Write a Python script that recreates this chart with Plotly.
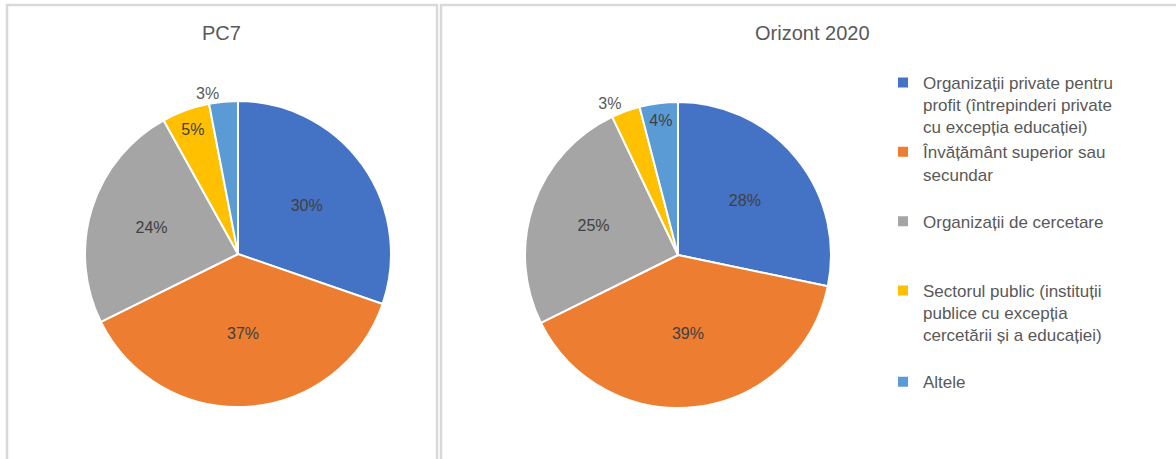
import plotly.graph_objects as go

NB = "\u00a0"
categories = [
    "Organizații private pentru<br>profit (întrepinderi private<br>cu excepția educației)",
    "Învățământ superior sau<br>secundar<br>" + NB,
    "Organizații de cercetare<br>" + NB + "<br>" + NB,
    "Sectorul public (instituții<br>publice cu excepția<br>cercetării și a educației)<br>" + NB,
    "Altele",
]
colors = ["#4472C4", "#ED7D31", "#A5A5A5", "#FFC000", "#5B9BD5"]
titles = ["PC7", "Orizont 2020"]
pc7_values = [30, 37, 24, 5, 3]
h2020_values = [28, 39, 25, 3, 4]
pc7_textpos = ["inside", "inside", "inside", "inside", "outside"]
h2020_textpos = ["inside", "inside", "inside", "outside", "inside"]

W, H = 1176, 459
FONT = "Liberation Sans, Arial, sans-serif"


def px(x):
    return x / W


def py(y):
    return 1 - y / H


R = 153
centers = [(238, 254), (678, 255)]


def dom(c):
    cx, cy = c
    return dict(x=[px(cx - R), px(cx + R)], y=[py(cy + R), py(cy - R)])


fig = go.Figure()
for i, (vals, tp) in enumerate([(pc7_values, pc7_textpos), (h2020_values, h2020_textpos)]):
    fig.add_trace(go.Pie(
        labels=categories,
        values=vals,
        sort=False,
        direction="clockwise",
        rotation=0,
        domain=dom(centers[i]),
        marker=dict(colors=colors, line=dict(color="white", width=2)),
        texttemplate="%{value}%",
        textposition=tp,
        insidetextorientation="horizontal",
        insidetextfont=dict(color="#404040", size=16, family=FONT),
        outsidetextfont=dict(color="#595959", size=16, family=FONT),
        showlegend=(i == 1),
        hoverinfo="label+value",
    ))

shapes = [
    dict(type="rect", xref="paper", yref="paper", x0=px(7), x1=px(437), y0=py(470), y1=py(5),
         line=dict(color="#D9D9D9", width=2.5), layer="below"),
    dict(type="rect", xref="paper", yref="paper", x0=px(441), x1=px(1190), y0=py(470), y1=py(5),
         line=dict(color="#D9D9D9", width=2.5), layer="below"),
]
annotations = [
    dict(text=titles[0], x=px(222), y=py(33), xref="paper", yref="paper", showarrow=False,
         font=dict(size=20, color="#595959", family=FONT), xanchor="center", yanchor="middle"),
    dict(text=titles[1], x=px(812), y=py(33), xref="paper", yref="paper", showarrow=False,
         font=dict(size=20, color="#595959", family=FONT), xanchor="center", yanchor="middle"),
]

fig.update_layout(
    width=W, height=H,
    margin=dict(l=0, r=0, t=0, b=0),
    paper_bgcolor="white",
    plot_bgcolor="white",
    shapes=shapes,
    annotations=annotations,
    uniformtext=dict(minsize=16, mode="show"),
    legend=dict(
        x=px(883), y=py(65), xanchor="left", yanchor="top",
        font=dict(size=17, color="#595959", family=FONT),
        valign="top",
        bgcolor="rgba(0,0,0,0)",
    ),
)

fig.write_html(
    "out.html",
    config={"displayModeBar": False},
    post_script="document.body.style.margin='0';",
)
